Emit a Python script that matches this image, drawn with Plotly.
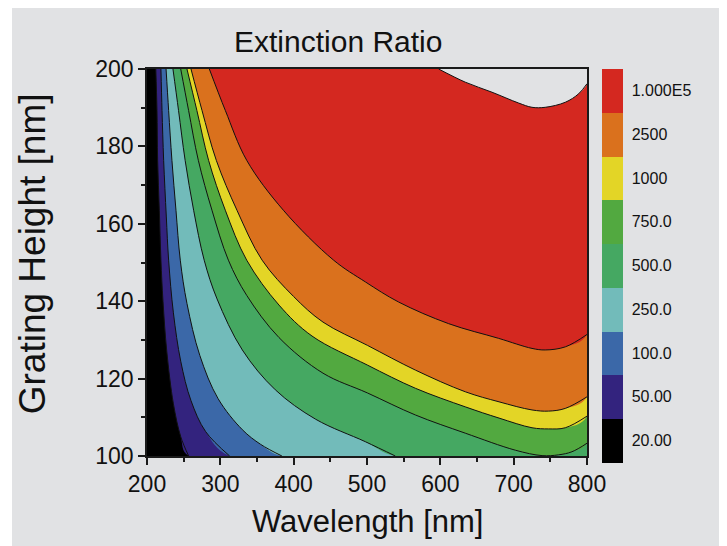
import plotly.graph_objects as go

# ---------------- data ----------------
level_labels = ["20.00", "50.00", "100.0", "250.0", "500.0", "750.0", "1000", "2500", "1.000E5"]
level_colors = ["#000000", "#33237E", "#3B68A8", "#72BBBA", "#45A862",
                "#52A940", "#E3D526", "#DA711D", "#D42820"]

# contour boundaries: wavelength [nm] vs grating height [nm]
wl_20 = [212, 213.6, 214.5, 216.8, 219, 221.8, 227, 236, 246, 256.8]
h_20 = [200, 189.3, 176.4, 163.5, 150.6, 140, 127, 113.5, 105, 100]

wl_50 = [219, 220.5, 222.7, 226.3, 229.5, 236, 246, 260, 280, 312.7]
h_50 = [200, 189.3, 176.4, 162, 150.6, 137, 124.5, 114.3, 106.3, 100]

wl_100 = [226, 229.5, 234, 239.5, 245.4, 254.5, 272, 297, 330, 355, 384]
h_100 = [200, 189.3, 176.4, 163.5, 150.6, 139.4, 126, 114.8, 106.8, 103, 100]

wl_250 = [235.4, 243, 252, 263.6, 278, 295.5, 330, 375, 430, 497.7, 538.6]
h_250 = [200, 189.3, 176.4, 163.5, 150.6, 140.6, 127.4, 117.1, 109.5, 103.7, 100]

wl_500 = [246, 256.7, 270, 288.6, 311, 336, 380, 440, 500.5, 566, 634, 702.3, 738.7, 761.3, 779.5, 800]
h_500 = [200, 189.3, 176.4, 163.5, 150.6, 141.5, 130.6, 121.4, 116.3, 110.6, 105.9, 101.5, 100.1, 100.3, 101.1, 103.3]

wl_750 = [254.5, 268, 284, 306.8, 336, 380, 425, 500.5, 566, 634, 680, 725, 747.7, 770.4, 800]
h_750 = [200, 189.3, 176.4, 163.5, 150.6, 139, 131, 123.5, 117.5, 112.7, 109.8, 107.3, 107, 107.3, 110.3]

wl_1000 = [260, 275, 294.5, 322.7, 357, 400, 440, 500.5, 566, 634, 680, 725, 747.7, 770.4, 800]
h_1000 = [200, 189.3, 176.4, 163.5, 150.6, 141.2, 134.6, 128.6, 122.2, 116.6, 114, 111.9, 111.6, 112.3, 115.3]

wl_2500 = [285, 306.8, 336, 386, 454.5, 497.7, 543, 611.3, 679.5, 725, 743, 770.4, 800]
h_2500 = [200, 189.3, 176.4, 163.5, 150.6, 145, 139.8, 134.2, 130.4, 127.8, 127.4, 128.2, 131.4]

wl_1e5 = [597.7, 634, 670.5, 706.8, 725, 743, 770.4, 788.6, 800]
h_1e5 = [200, 196.6, 194, 191.2, 190.1, 190.1, 191.4, 193.6, 196.2]

x_ticks = [200, 300, 400, 500, 600, 700, 800]
y_ticks = [100, 120, 140, 160, 180, 200]

BG = "#E1E2E4"
FONT = "Liberation Sans, Arial, sans-serif"

# page offset of the figure (default body margin of the html page)
OFF = 8
PL, PR, PT, PB = 147, 587, 68.5, 456   # plot frame on the page (px)
W = PR - PL
H = PB - PT


def px(x):
    return (x - PL) / W


def py(y):
    return (PB - y) / H


curves = [(wl_20, h_20), (wl_50, h_50), (wl_100, h_100), (wl_250, h_250),
          (wl_500, h_500), (wl_750, h_750), (wl_1000, h_1000), (wl_2500, h_2500)]

SMOOTH = 1.0
fig = go.Figure()

# filled regions, layered from low to high level (area right of each boundary)
for i, (wx, hy) in enumerate(curves):
    xs = list(wx)
    ys = list(hy)
    if ys[-1] <= 100.001 and xs[-1] < 800:
        xs += [800, 800]
        ys += [100, 200]
    else:
        xs += [800]
        ys += [200]
    fig.add_trace(go.Scatter(x=xs, y=ys, mode="lines", fill="toself",
                             fillcolor=level_colors[i + 1],
                             line=dict(width=0, shape="spline", smoothing=SMOOTH),
                             hoverinfo="skip", showlegend=False))

# region above the highest level (no fill colour -> background)
fig.add_trace(go.Scatter(x=list(wl_1e5) + [800], y=list(h_1e5) + [200], mode="lines",
                         fill="toself", fillcolor=BG,
                         line=dict(width=0, shape="spline", smoothing=SMOOTH),
                         hoverinfo="skip", showlegend=False))

# contour lines
for wx, hy in curves + [(wl_1e5, h_1e5)]:
    fig.add_trace(go.Scatter(x=wx, y=hy, mode="lines",
                             line=dict(color="#111111", width=1, shape="spline", smoothing=SMOOTH),
                             hoverinfo="skip", showlegend=False))

# colour legend (discrete colour bar)
n = len(level_labels)
cs = []
for i, c in enumerate(level_colors):
    cs.append([i / n, c])
    cs.append([(i + 1) / n, c])
fig.add_trace(go.Scatter(
    x=[500] * n, y=[150] * n, mode="markers",
    marker=dict(size=0.001, opacity=0, color=[i + 0.5 for i in range(n)], cmin=0, cmax=n,
                colorscale=cs, showscale=True,
                colorbar=dict(
                    x=px(602), xanchor="left", xpad=0, ypad=0,
                    y=py(265.3), yanchor="middle",
                    len=394, lenmode="pixels", thickness=21, thicknessmode="pixels",
                    outlinewidth=0, tickvals=[i + 0.5 for i in range(n)],
                    ticktext=level_labels, ticks="outside", ticklen=6,
                    tickcolor="rgba(0,0,0,0)",
                    tickfont=dict(family=FONT, size=16, color="#111111"),
                )),
    hoverinfo="skip", showlegend=False))

axis_common = dict(showgrid=False, zeroline=False, showline=True, linecolor="#1a1a1a",
                   linewidth=1.5, mirror=True, ticks="outside", ticklen=7, tickwidth=1.5,
                   tickcolor="#1a1a1a",
                   tickfont=dict(family=FONT, size=23, color="#111111"))

fig.update_layout(
    width=727, height=546,
    margin=dict(l=PL - OFF, r=727 - (PR - OFF), t=PT - OFF, b=546 - (PB - OFF)),
    paper_bgcolor=BG, plot_bgcolor="#000000",
    xaxis=dict(range=[200, 800], tickvals=x_ticks,
               minor=dict(dtick=50, ticks="outside", ticklen=4, tickwidth=1.5, tickcolor="#1a1a1a"),
               **axis_common),
    yaxis=dict(range=[100, 200], tickvals=y_ticks,
               minor=dict(dtick=10, ticks="outside", ticklen=4, tickwidth=1.5, tickcolor="#1a1a1a"),
               **axis_common),
    annotations=[
        dict(text="Extinction Ratio", xref="paper", yref="paper",
             x=px(338), y=py(41), showarrow=False,
             xanchor="center", yanchor="middle",
             font=dict(family=FONT, size=30, color="#111111")),
        dict(text="Wavelength [nm]", xref="paper", yref="paper",
             x=px(367), y=py(522), showarrow=False,
             xanchor="center", yanchor="middle",
             font=dict(family=FONT, size=31, color="#111111")),
        dict(text="Grating Height [nm]", xref="paper", yref="paper", textangle=-90,
             x=px(32), y=py(254), showarrow=False,
             xanchor="center", yanchor="middle",
             font=dict(family=FONT, size=37, color="#111111")),
    ],
    shapes=[
        dict(type="rect", xref="paper", yref="paper", layer="above",
             x0=px(-20), x1=px(12), y0=py(600), y1=py(-20),
             fillcolor="#FFFFFF", line=dict(width=0)),
    ],
)

fig.write_html("out.html")
